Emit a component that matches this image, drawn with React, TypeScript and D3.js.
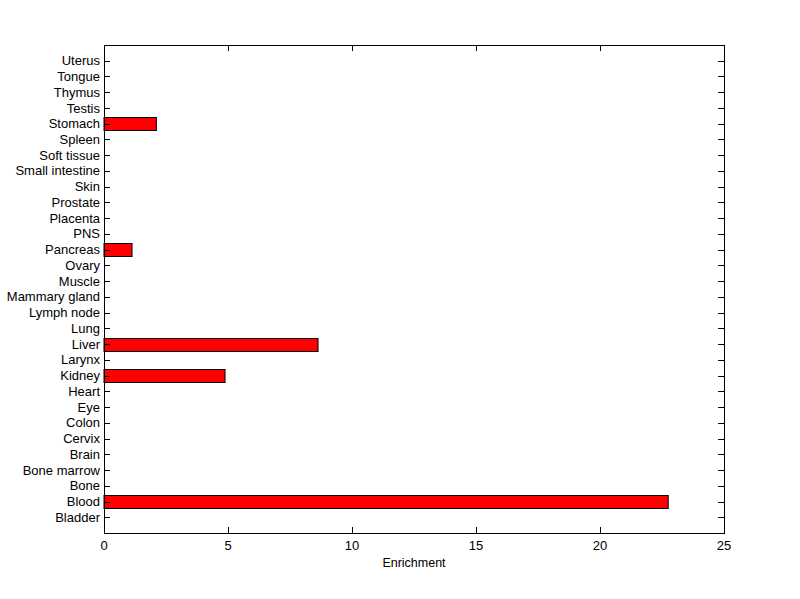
import React from "react";
import * as d3 from "d3";

const categories = [
  "Bladder", "Blood", "Bone", "Bone marrow", "Brain", "Cervix", "Colon", "Eye", "Heart",
  "Kidney", "Larynx", "Liver", "Lung", "Lymph node", "Mammary gland", "Muscle", "Ovary",
  "Pancreas", "PNS", "Placenta", "Prostate", "Skin", "Small intestine", "Soft tissue",
  "Spleen", "Stomach", "Testis", "Thymus", "Tongue", "Uterus",
];
const values = [
  0, 22.75, 0, 0, 0, 0, 0, 0, 0,
  4.88, 0, 8.63, 0, 0, 0, 0, 0,
  1.13, 0, 0, 0, 0, 0, 0,
  0, 2.11, 0, 0, 0, 0,
];
const xTicks = [0, 5, 10, 15, 20, 25];
const xLabel = "Enrichment";

export default function App() {
  const W = 800, H = 599;
  const left = 104, right = 724, top = 45, bottom = 533;
  const x = d3.scaleLinear().domain([0, 25]).range([left, right]);
  const y = d3.scaleLinear().domain([0, categories.length + 1]).range([bottom, top]);
  const bh = (y(0) - y(1)) * 0.8;
  const font = "'Liberation Sans', Arial, sans-serif";
  const tl = 6;
  return (
    <svg width={W} height={H} style={{ position: "absolute", left: 0, top: 0, background: "#fff" }}
      fontFamily={font} fontSize={13}>
      <rect x={0} y={0} width={W} height={H} fill="#fff" />
      {values.map((v, i) =>
        v > 0 ? (
          <rect key={i} x={x(0)} y={Math.round(y(i + 1) - bh / 2) + 0.5} width={x(v) - x(0)} height={Math.round(bh)}
            fill="#ff0000" stroke="#000" strokeWidth={1} />
        ) : null
      )}
      <rect x={left + 0.5} y={top + 0.5} width={right - left} height={bottom - top} fill="none" stroke="#000" strokeWidth={1} />
      {categories.map((c, i) => {
        const yy = Math.round(y(i + 1)) + 0.5;
        return (
          <g key={c}>
            <line x1={left} x2={left + tl} y1={yy} y2={yy} stroke="#000" />
            <line x1={right} x2={right - tl} y1={yy} y2={yy} stroke="#000" />
            <text x={left - 4} y={y(i + 1)} dy="0.35em" textAnchor="end" fill="#000">{c}</text>
          </g>
        );
      })}
      {xTicks.map((t) => (
        <g key={t}>
          <line x1={x(t) + 0.5} x2={x(t) + 0.5} y1={bottom} y2={bottom - tl} stroke="#000" />
          <line x1={x(t) + 0.5} x2={x(t) + 0.5} y1={top} y2={top + tl} stroke="#000" />
          <text x={x(t)} y={bottom + 17} textAnchor="middle" fill="#000">{t}</text>
        </g>
      ))}
      <text x={(left + right) / 2} y={bottom + 34} textAnchor="middle" fill="#000" fontSize={12.5}>{xLabel}</text>
    </svg>
  );
}
